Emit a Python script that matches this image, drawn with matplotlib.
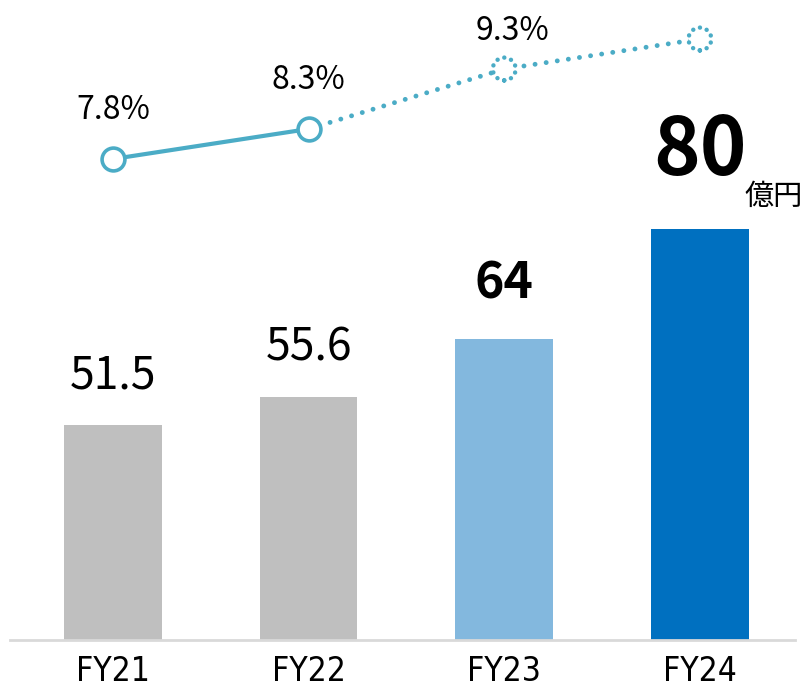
import matplotlib
matplotlib.use("Agg")
import matplotlib.pyplot as plt
import numpy as np

plt.rcParams['font.family'] = ['Noto Sans CJK JP', 'DejaVu Sans']

years = ["FY21", "FY22", "FY23", "FY24"]
sales = [51.5, 55.6, 64, 80]
sales_labels = ["51.5", "55.6", "64", "80"]
margin = [7.8, 8.3, 9.3, 9.8]
margin_labels = ["7.8%", "8.3%", "9.3%", None]

BAR_COLORS = ["#bfbfbf", "#bfbfbf", "#83b8de", "#0070c0"]
LINE_COLOR = "#4bacc6"
BASE = 20.24

fig = plt.figure(figsize=(8.07, 6.91), dpi=100)
ax = fig.add_axes([10 / 807, 51 / 691, 785 / 807, 640 / 691])
x = np.arange(len(years))

ax.bar(x, np.array(sales) - BASE, bottom=BASE, width=0.5, color=BAR_COLORS, zorder=2)
ax.set_xlim(-0.526, 3.486)
ax.set_ylim(BASE, BASE + 640 / 6.877)

for s in ["top", "right", "left"]:
    ax.spines[s].set_visible(False)
ax.spines["bottom"].set_color("#d9d9d9")
ax.spines["bottom"].set_linewidth(2)
ax.set_yticks([])
ax.set_xticks(x)
ax.set_xticklabels(years, fontsize=24, family=["DejaVu Sans"], stretch="condensed")
ax.tick_params(axis="x", length=0, pad=11)

# bar value labels
for i, (v, lab) in enumerate(zip(sales, sales_labels)):
    if i < 2:
        ax.annotate(lab, (i, v), xytext=(0, 26), textcoords="offset points",
                    ha="center", va="baseline", fontsize=32)
    elif i == 2:
        ax.annotate(lab, (i, v), xytext=(0, 29), textcoords="offset points",
                    ha="center", va="baseline", fontsize=36, fontweight="bold")
    else:
        ax.annotate(lab, (i, v), xytext=(0, 39), textcoords="offset points",
                    ha="center", va="baseline", fontsize=57, fontweight="bold")
        ax.annotate("億円", (i, v), xytext=(53, 17), textcoords="offset points",
                    ha="center", va="baseline", fontsize=21)

# margin line on its own scale
ax2 = ax.twinx()
ax2.set_ylim(7.8 - 481 / 60, 7.8 - 481 / 60 + 640 / 60)
ax2.axis("off")
ax2.plot(x[:2], margin[:2], color=LINE_COLOR, lw=3, solid_capstyle="round", zorder=2)
ax2.plot(x[1:], margin[1:], color=LINE_COLOR, lw=3.5, linestyle=(0, (0.01, 2.3)),
         dash_capstyle="round", zorder=2)
ax2.scatter(x[:2], margin[:2], s=270, facecolor="white", edgecolor=LINE_COLOR,
            linewidths=2.6, zorder=3)
ax2.scatter(x[2:], margin[2:], s=270, facecolor="white", edgecolor=LINE_COLOR,
            linewidths=3.2, linestyles=(0, (0.01, 1.6)), capstyle="round", zorder=3)

offsets = [(0, 29), (0, 29), (6, 21)]
for i, lab in enumerate(margin_labels):
    if lab is None:
        continue
    ax2.annotate(lab, (i, margin[i]), xytext=offsets[i], textcoords="offset points",
                 ha="center", va="baseline", fontsize=23)

fig.savefig("out.png", dpi=100)
